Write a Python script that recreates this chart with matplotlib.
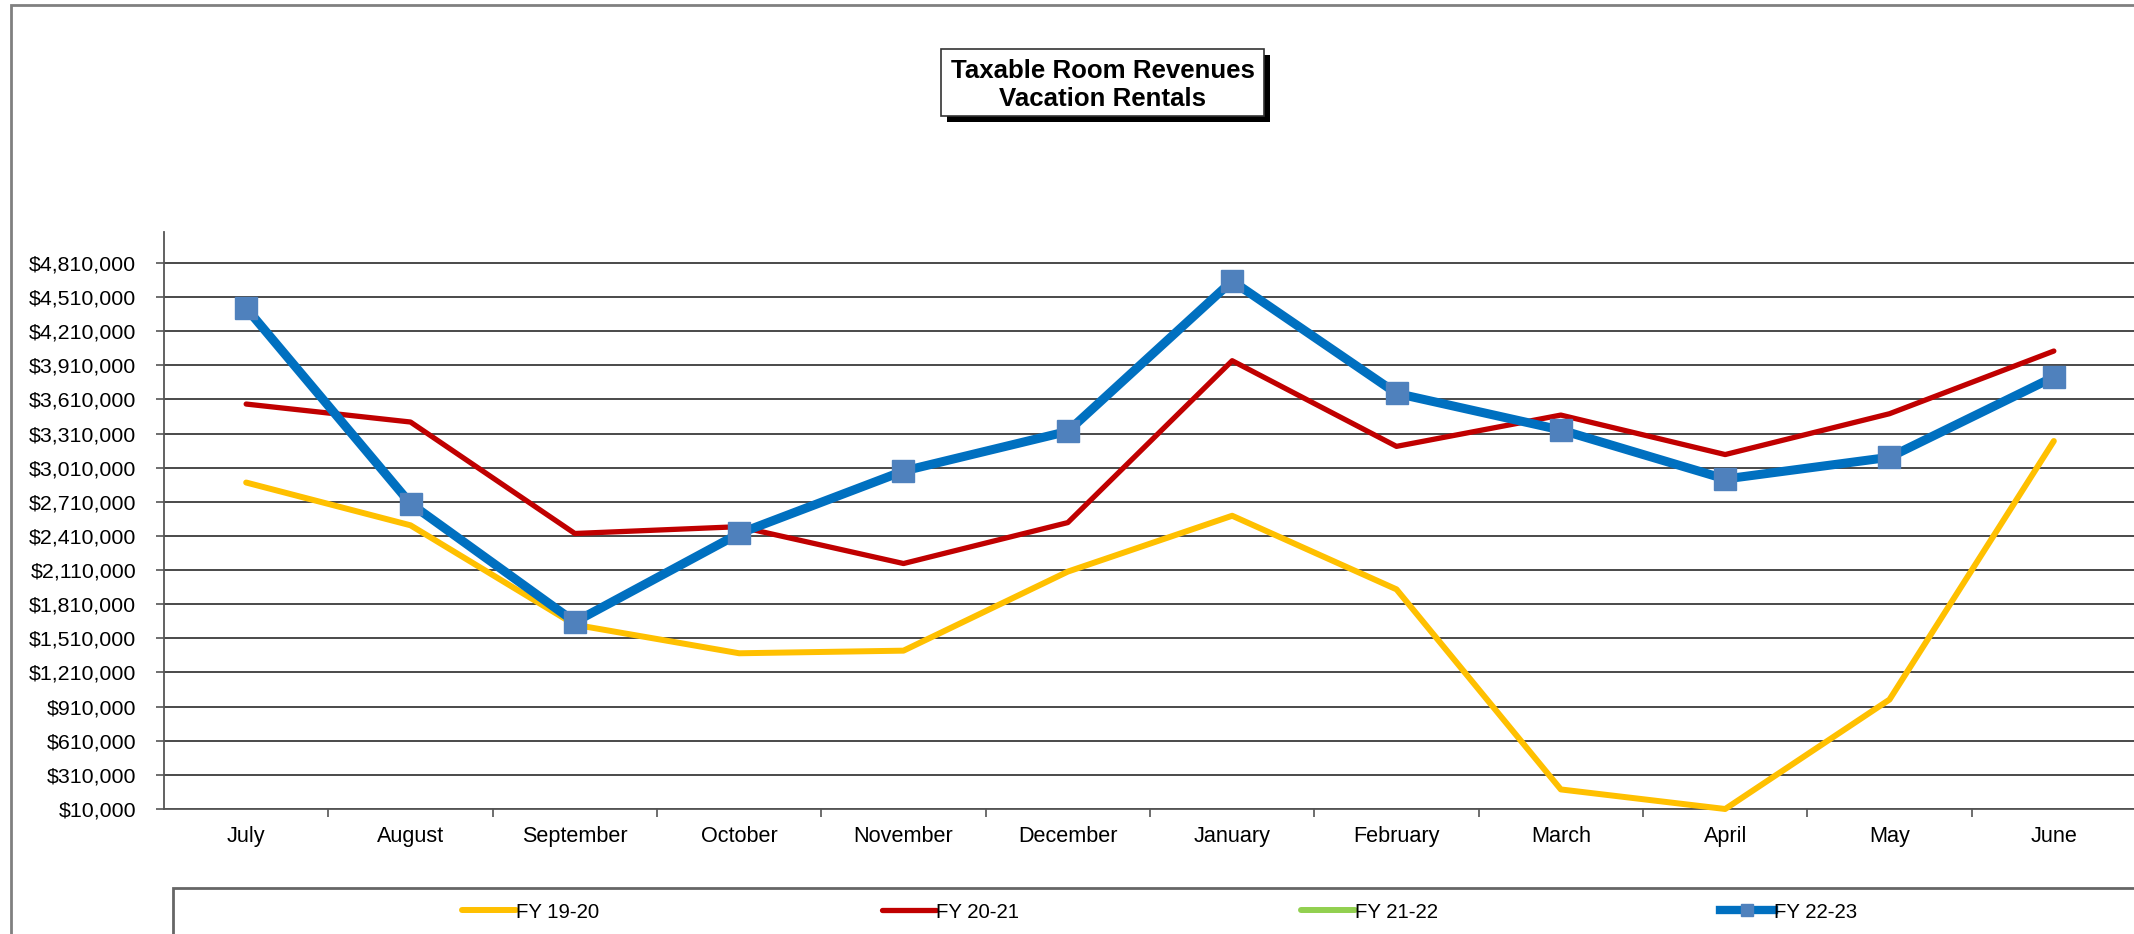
import matplotlib
matplotlib.use("Agg")
import matplotlib.pyplot as plt
from matplotlib.patches import Rectangle
from matplotlib.lines import Line2D
from matplotlib.ticker import FuncFormatter, FixedLocator

plt.rcParams['font.family'] = ['Liberation Sans', 'DejaVu Sans']

months = ["July", "August", "September", "October", "November", "December",
          "January", "February", "March", "April", "May", "June"]
fy1920 = [2880000, 2504000, 1630000, 1379000, 1402000, 2097000,
          2588000, 1941000, 182000, 10000, 972000, 3245000]
fy2021 = [3570000, 3412000, 2432000, 2492000, 2168000, 2528000,
          3951000, 3198000, 3473000, 3126000, 3485000, 4036000]
fy2122 = []
fy2223 = [4414000, 2695000, 1654000, 2432000, 2981000, 3330000,
          4652000, 3664000, 3342000, 2911000, 3102000, 3808000]
yticks = list(range(10000, 4810001, 300000))

W, H = 2134, 934
fig = plt.figure(figsize=(W / 100, H / 100), dpi=100)

def fx(x):
    return x / W

def fy(y):
    return 1 - y / H

# outer chart border (continues off the image)
fig.patches.append(Rectangle((fx(11), fy(1000)), fx(2300), fy(5) - fy(1000),
                             transform=fig.transFigure, fill=False,
                             edgecolor='#808080', lw=2.0))

ax = fig.add_axes([fx(164), fy(809), fx(2136) - fx(164), fy(232) - fy(809)])
x = list(range(len(months)))

c_y, c_r, c_g, c_b, c_m = '#FFC000', '#C00000', '#92D050', '#0070C0', '#4F81BD'

ax.plot(x, fy1920, color=c_y, lw=4.3, solid_capstyle='round', clip_on=False, zorder=3)
ax.plot(x, fy2021, color=c_r, lw=3.8, solid_capstyle='round', clip_on=False, zorder=3)
ax.plot(x[:len(fy2122)], fy2122, color=c_g, lw=4.3, zorder=3)
ax.plot(x, fy2223, color=c_b, lw=6.5, marker='s', markersize=15.5,
        markerfacecolor=c_m, markeredgecolor=c_m, clip_on=False, zorder=4)

ax.set_xlim(-0.5, 11.5)
ax.set_ylim(10000, 5082500)
ax.yaxis.set_major_locator(FixedLocator(yticks))
ax.yaxis.set_major_formatter(FuncFormatter(lambda v, p: "${:,.0f}".format(v)))
ax.grid(axis='y', color='#3a3a3a', lw=1.3, zorder=1)
ax.set_axisbelow(True)

ax.set_xticks(x)
ax.set_xticklabels(months)
ax.set_xticks([i - 0.5 for i in range(1, 12)], minor=True)
ax.tick_params(axis='x', which='major', length=0, pad=12, labelsize=15.6)
ax.tick_params(axis='x', which='minor', length=6, width=1.2, color='#555555')
ax.tick_params(axis='y', length=6, width=1.2, color='#555555', pad=14, labelsize=15.4)

for s in ['top', 'right']:
    ax.spines[s].set_visible(False)
for s in ['left', 'bottom']:
    ax.spines[s].set_color('#555555')
    ax.spines[s].set_linewidth(1.3)

# title box with shadow
bx0, by0, bx1, by1 = 941, 49, 1264, 116
fig.patches.append(Rectangle((fx(bx0 + 6), fy(by1 + 6)), fx(bx1 - bx0), fy(by0) - fy(by1),
                             transform=fig.transFigure, facecolor='black', edgecolor='black', lw=0))
fig.patches.append(Rectangle((fx(bx0), fy(by1)), fx(bx1 - bx0), fy(by0) - fy(by1),
                             transform=fig.transFigure, facecolor='white', edgecolor='#333333', lw=1.2))
fig.text(fx((bx0 + bx1) / 2), fy(71), "Taxable Room Revenues", ha='center', va='center',
         fontsize=18.6, fontweight='bold')
fig.text(fx((bx0 + bx1) / 2), fy(99), "Vacation Rentals", ha='center', va='center',
         fontsize=18.6, fontweight='bold')

# legend box
fig.patches.append(Rectangle((fx(173), fy(1000)), fx(2300), fy(888) - fy(1000),
                             transform=fig.transFigure, fill=False,
                             edgecolor='#666666', lw=2.0))
entries = [
    (Line2D([], [], color=c_y, lw=4.3, solid_capstyle='round'), "FY 19-20", 462),
    (Line2D([], [], color=c_r, lw=3.8, solid_capstyle='round'), "FY 20-21", 882),
    (Line2D([], [], color=c_g, lw=4.3, solid_capstyle='round'), "FY 21-22", 1301),
    (Line2D([], [], color=c_b, lw=6.0, marker='s', markersize=9,
            markerfacecolor=c_m, markeredgecolor=c_m), "FY 22-23", 1720),
]
for h, lab, xs in entries:
    fig.legend([h], [lab], loc='center left', bbox_to_anchor=(fx(xs), fy(912)),
               frameon=False, fontsize=14.7, handlelength=2.65, handletextpad=0.0,
               borderaxespad=0, borderpad=0)

fig.savefig("out.png", dpi=100)
